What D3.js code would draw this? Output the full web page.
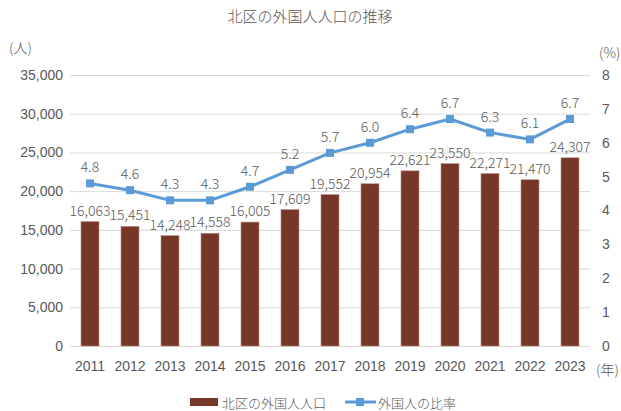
<!DOCTYPE html>
<html><head><meta charset="utf-8">
<script src="https://cdn.jsdelivr.net/npm/d3@7"></script>
<style>
html,body{margin:0;padding:0;background:#fff;}
svg{display:block;font-family:"Noto Sans CJK JP","Noto Sans",sans-serif;font-weight:300;}
</style></head>
<body><svg id="chart" width="621" height="411"></svg>
<script>
const years = ["2011","2012","2013","2014","2015","2016","2017","2018","2019","2020","2021","2022","2023"];
const population = [16063,15451,14248,14558,16005,17609,19552,20954,22621,23550,22271,21470,24307];
const ratio = [4.8,4.6,4.3,4.3,4.7,5.2,5.7,6.0,6.4,6.7,6.3,6.1,6.7];
const leftTicks = [0,5000,10000,15000,20000,25000,30000,35000];
const rightTicks = [0,1,2,3,4,5,6,7,8];
const title = "北区の外国人人口の推移";
const seriesNames = ["北区の外国人人口","外国人の比率"];

const barColor = "#773726", lineColor = "#5b9bd5", textColor = "#595959", gridColor = "#d9d9d9";
const svg = d3.select("#chart");

const x = d3.scaleBand().domain(years).range([70,590]).paddingInner(0.55).paddingOuter(0.275);
const y = d3.scaleLinear().domain([0,35000]).range([346,75]);
const y2 = d3.scaleLinear().domain([0,8]).range([346,75]);

// title
svg.append("text").attr("x",310).attr("y",15).attr("text-anchor","middle").attr("dominant-baseline","central")
  .attr("font-size",15).attr("fill",textColor).text(title);

// gridlines
svg.append("g").selectAll("line").data(leftTicks).join("line")
  .attr("x1",70).attr("x2",590).attr("y1",d=>y(d)+0.5).attr("y2",d=>y(d)+0.5)
  .attr("stroke",gridColor).attr("stroke-width",1);

// left axis
const gl = svg.append("g").attr("transform","translate(70,0)")
  .call(d3.axisLeft(y).tickValues(leftTicks).tickSize(0).tickPadding(7).tickFormat(d3.format(",")));
gl.select(".domain").remove();
gl.selectAll("text").attr("font-size",14).attr("fill",textColor).attr("font-family","inherit");

// right axis
const gr = svg.append("g").attr("transform","translate(590,0)")
  .call(d3.axisRight(y2).tickValues(rightTicks).tickSize(0).tickPadding(12).tickFormat(d3.format("d")));
gr.select(".domain").remove();
gr.selectAll("text").attr("font-size",14).attr("fill",textColor).attr("font-family","inherit");

// bottom axis
const gb = svg.append("g").attr("transform","translate(0,346)")
  .call(d3.axisBottom(x).tickSize(0).tickPadding(15));
gb.select(".domain").remove();
gb.selectAll("text").attr("font-size",14).attr("fill",textColor).attr("font-family","inherit");

// unit labels
svg.append("text").attr("x",9).attr("y",47).attr("dominant-baseline","central").attr("font-size",14).attr("fill",textColor).text("(人)");
svg.append("text").attr("x",599).attr("y",52).attr("dominant-baseline","central").attr("font-size",14).attr("fill",textColor).text("(%)");
svg.append("text").attr("x",596).attr("y",369).attr("dominant-baseline","central").attr("font-size",14).attr("fill",textColor).text("(年)");

// bars
svg.append("g").selectAll("rect").data(years).join("rect")
  .attr("x",d=>x(d)).attr("width",x.bandwidth())
  .attr("y",(d,i)=>y(population[i])).attr("height",(d,i)=>y(0)-y(population[i]))
  .attr("fill",barColor).attr("stroke","#b58d84").attr("stroke-width",0.6);

// bar labels
svg.append("g").selectAll("text").data(years).join("text")
  .attr("x",d=>x(d)+x.bandwidth()/2).attr("y",(d,i)=>y(population[i])-12)
  .attr("text-anchor","middle").attr("dominant-baseline","central")
  .attr("font-size",14).attr("fill",textColor).text((d,i)=>d3.format(",")(population[i]));

// line
const line = d3.line().x((d,i)=>x(years[i])+x.bandwidth()/2).y(d=>y2(d));
svg.append("path").datum(ratio).attr("d",line).attr("fill","none").attr("stroke",lineColor).attr("stroke-width",3).attr("stroke-linejoin","round");
svg.append("g").selectAll("rect").data(ratio).join("rect")
  .attr("x",(d,i)=>x(years[i])+x.bandwidth()/2-4).attr("y",d=>y2(d)-4).attr("width",8).attr("height",8).attr("fill",lineColor);
svg.append("g").selectAll("text").data(ratio).join("text")
  .attr("x",(d,i)=>x(years[i])+x.bandwidth()/2).attr("y",d=>y2(d)-17)
  .attr("text-anchor","middle").attr("dominant-baseline","central")
  .attr("font-size",14).attr("fill",textColor).text(d=>d3.format(".1f")(d));

// legend
const lg = svg.append("g");
lg.append("rect").attr("x",190).attr("y",398).attr("width",28).attr("height",8).attr("fill",barColor);
lg.append("text").attr("x",222).attr("y",402).attr("dominant-baseline","central").attr("font-size",13).attr("fill",textColor).text(seriesNames[0]);
lg.append("line").attr("x1",345).attr("x2",376).attr("y1",402).attr("y2",402).attr("stroke",lineColor).attr("stroke-width",3);
lg.append("rect").attr("x",356).attr("y",398).attr("width",8).attr("height",8).attr("fill",lineColor);
lg.append("text").attr("x",378).attr("y",402).attr("dominant-baseline","central").attr("font-size",13).attr("fill",textColor).text(seriesNames[1]);
</script></body></html>
